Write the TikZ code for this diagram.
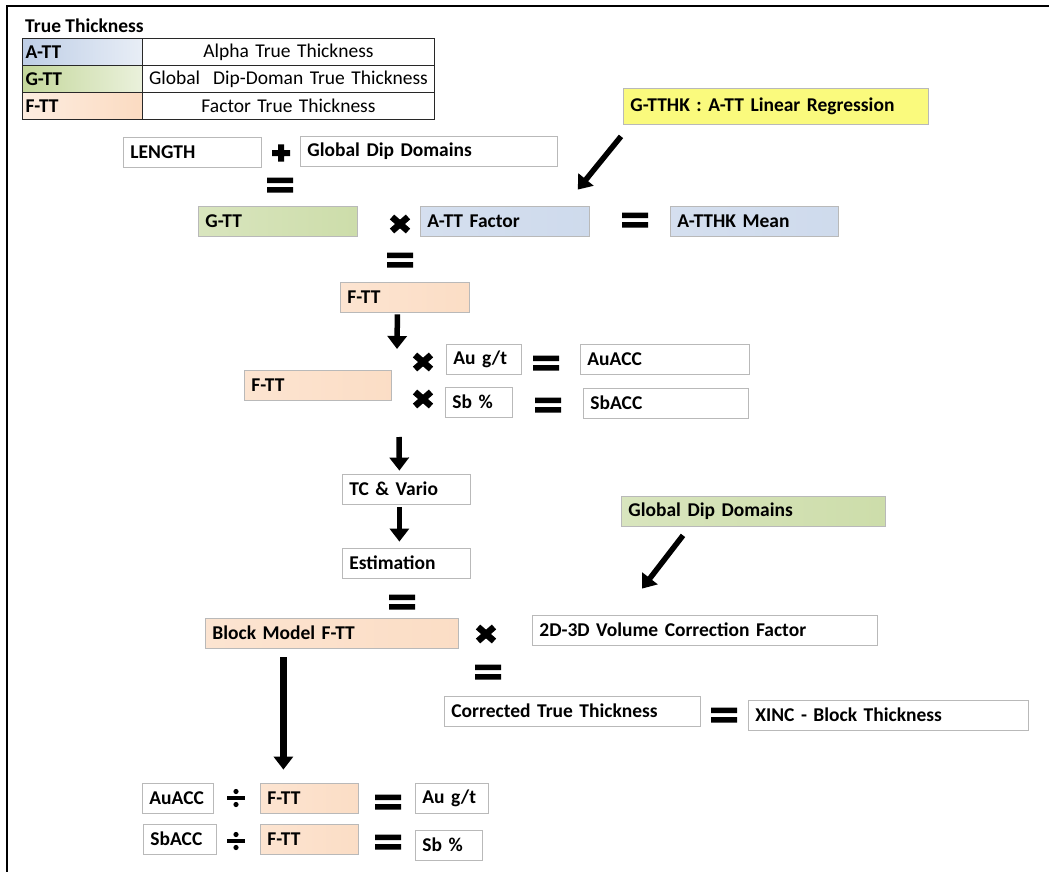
\documentclass[tikz,border=0pt]{standalone}
\usepackage{fontspec}
\setmainfont{Carlito}
\usetikzlibrary{arrows.meta}
\definecolor{boxgray}{RGB}{185,185,185}
\definecolor{legline}{RGB}{40,40,40}
\definecolor{ttblue}{RGB}{190,206,230}
\definecolor{ttgreen}{RGB}{196,215,155}
\definecolor{ttpeach}{RGB}{250,210,178}
\definecolor{ttyellow}{RGB}{250,250,125}
\newcommand{\lbl}{\fontsize{19.5}{23}\selectfont}

\tikzset{
  box/.style={draw=boxgray, fill=white, line width=0.8pt, anchor=west, minimum height=30pt,
    inner xsep=7pt, inner ysep=0pt, text width=#1, align=left, font=\lbl\bfseries},
  bluebox/.style={left color=ttblue!65, right color=ttblue!75},
  greenbox/.style={left color=ttgreen!65, right color=ttgreen!85},
  peachbox/.style={left color=ttpeach!60, right color=ttpeach!75},
  lgkey/.style={draw=legline, line width=1pt, anchor=north west, minimum height=27pt,
    inner xsep=3pt, inner ysep=0pt, text width=114pt, align=left, font=\lbl\bfseries},
  lgdesc/.style={draw=legline, line width=1pt, anchor=north west, minimum height=27pt,
    inner xsep=3pt, inner ysep=0pt, text width=286pt, align=center, font=\lbl},
  flow/.style={line width=5.5pt, -{Triangle[length=13pt, width=19pt]}},
  % heavy operator signs
  eqsign/.pic={\fill (-13,-7.5) rectangle (13,-2) (-13,2) rectangle (13,7.5);},
  plussign/.pic={\fill (-9,-3) rectangle (9,3) (-3,-8.5) rectangle (3,8.5);},
  timessign/.pic={\draw[line width=6.5pt] (-8,-7) -- (8,7) (-8,7) -- (8,-7);},
  divsign/.pic={\fill (-9,-2) rectangle (9,2); \fill (0,-6.5) circle (2.6pt) (0,6.5) circle (2.6pt);},
}

\begin{document}
\begin{tikzpicture}[x=1pt, y=-1pt]
  \useasboundingbox (0,0) rectangle (1049,872);
  \draw[line width=2pt] (7,872) -- (7,6) -- (1049,6);

  % legend
  \node[anchor=west, inner sep=0pt, font=\lbl\bfseries] (lgtitle) at (25,26) {True Thickness};
  \node[lgkey, left color=ttblue, right color=ttblue!35] (lgatt) at (22,38) {A-TT};
  \node[lgdesc] (lgattd) at (142,38) {Alpha True Thickness};
  \node[lgkey, left color=ttgreen, right color=ttgreen!35] (lggtt) at (22,65) {G-TT};
  \node[lgdesc] (lggttd) at (142,65) {Global\ \ Dip-Doman True Thickness};
  \node[lgkey, left color=ttpeach!40, right color=ttpeach!80] (lgftt) at (22,92) {F-TT};
  \node[lgdesc] (lgfttd) at (142,92) {Factor True Thickness};

  % G-TT and factor
  \node[box=124pt] (len) at (123,152) {LENGTH};
  \pic at (281,153) {plussign};
  \node[box=243pt] (gdd1) at (300,151) {Global Dip Domains};
  \pic at (280,185) {eqsign};
  \node[box=145pt, greenbox] (gtt) at (198,221) {G-TT};
  \pic at (400,224) {timessign};
  \node[box=155pt, bluebox] (attf) at (420,221) {A-TT Factor};
  \pic at (635,220) {eqsign};
  \node[box=154pt, bluebox] (atthk) at (670,221) {A-TTHK Mean};
  \node[box=291pt, minimum height=36pt, fill=ttyellow] (regr) at (623,106) {G-TTHK : A-TT Linear Regression};
  \draw[flow] ([shift={(-2,12)}]regr.south west) -- ([shift={(-12,-16)}]attf.north east);
  \pic at (400,260) {eqsign};

  % accumulations
  \node[box=115pt, peachbox] (ftt1) at (340,297) {F-TT};
  \coordinate (fttdown) at (397,349);
  \draw[flow] ([shift={(-7.5,2)}]ftt1.south) -- (fttdown);
  \node[box=133pt, peachbox] (ftt2) at (244,385) {F-TT};
  \pic at (423,362) {timessign};
  \node[box=61pt] (augt1) at (446,359) {Au g/t};
  \pic at (546,363) {eqsign};
  \node[box=155pt] (auacc1) at (580,359) {AuACC};
  \pic at (423,399) {timessign};
  \node[box=53pt] (sbpc1) at (445,402) {Sb \%};
  \pic at (548,405) {eqsign};
  \node[box=151pt] (sbacc1) at (583,403) {SbACC};

  % estimation
  \coordinate (tcin) at (399,437);
  \node[box=114pt] (tc) at (342,489) {TC \& Vario};
  \draw[flow] (tcin) -- ([shift={(-7,-3)}]tc.north);
  \node[box=114pt] (est) at (342,563) {Estimation};
  \draw[flow] ([shift={(-7,3)}]tc.south) -- ([shift={(-7,-6)}]est.north);
  \pic at (402,602) {eqsign};
  \node[box=239pt, peachbox] (bm) at (205,633) {Block Model F-TT};
  \pic at (486,634) {timessign};
  \node[box=331pt] (vcf) at (532,630) {2D-3D Volume Correction Factor};
  \node[box=250pt, greenbox] (gdd2) at (621,511) {Global Dip Domains};
  \draw[flow] ([shift={(62,9)}]gdd2.south west) -- ([shift={(110,-26)}]vcf.north west);
  \pic at (488,672) {eqsign};
  \node[box=242pt] (ctt) at (444,711) {Corrected True Thickness};
  \pic at (724,715) {eqsign};
  \node[box=266pt] (xinc) at (748,715) {XINC - Block Thickness};

  % back to grades
  \node[box=57pt] (auacc2) at (142,798) {AuACC};
  \pic at (236,798) {divsign};
  \node[box=84pt, peachbox] (ftt3) at (260,798) {F-TT};
  \pic at (388,802) {eqsign};
  \node[box=59pt] (augt2) at (415,798) {Au g/t};
  \node[box=59pt] (sbacc2) at (143,839) {SbACC};
  \pic at (236,841) {divsign};
  \node[box=84pt, peachbox] (ftt4) at (260,839) {F-TT};
  \pic at (388,842) {eqsign};
  \node[box=53pt] (sbpc2) at (415,845) {Sb \%};
  \draw[flow, line width=6.5pt] ([shift={(-48.5,9)}]bm.south) -- ([shift={(-26,-13)}]ftt3.north);
\end{tikzpicture}
\end{document}
